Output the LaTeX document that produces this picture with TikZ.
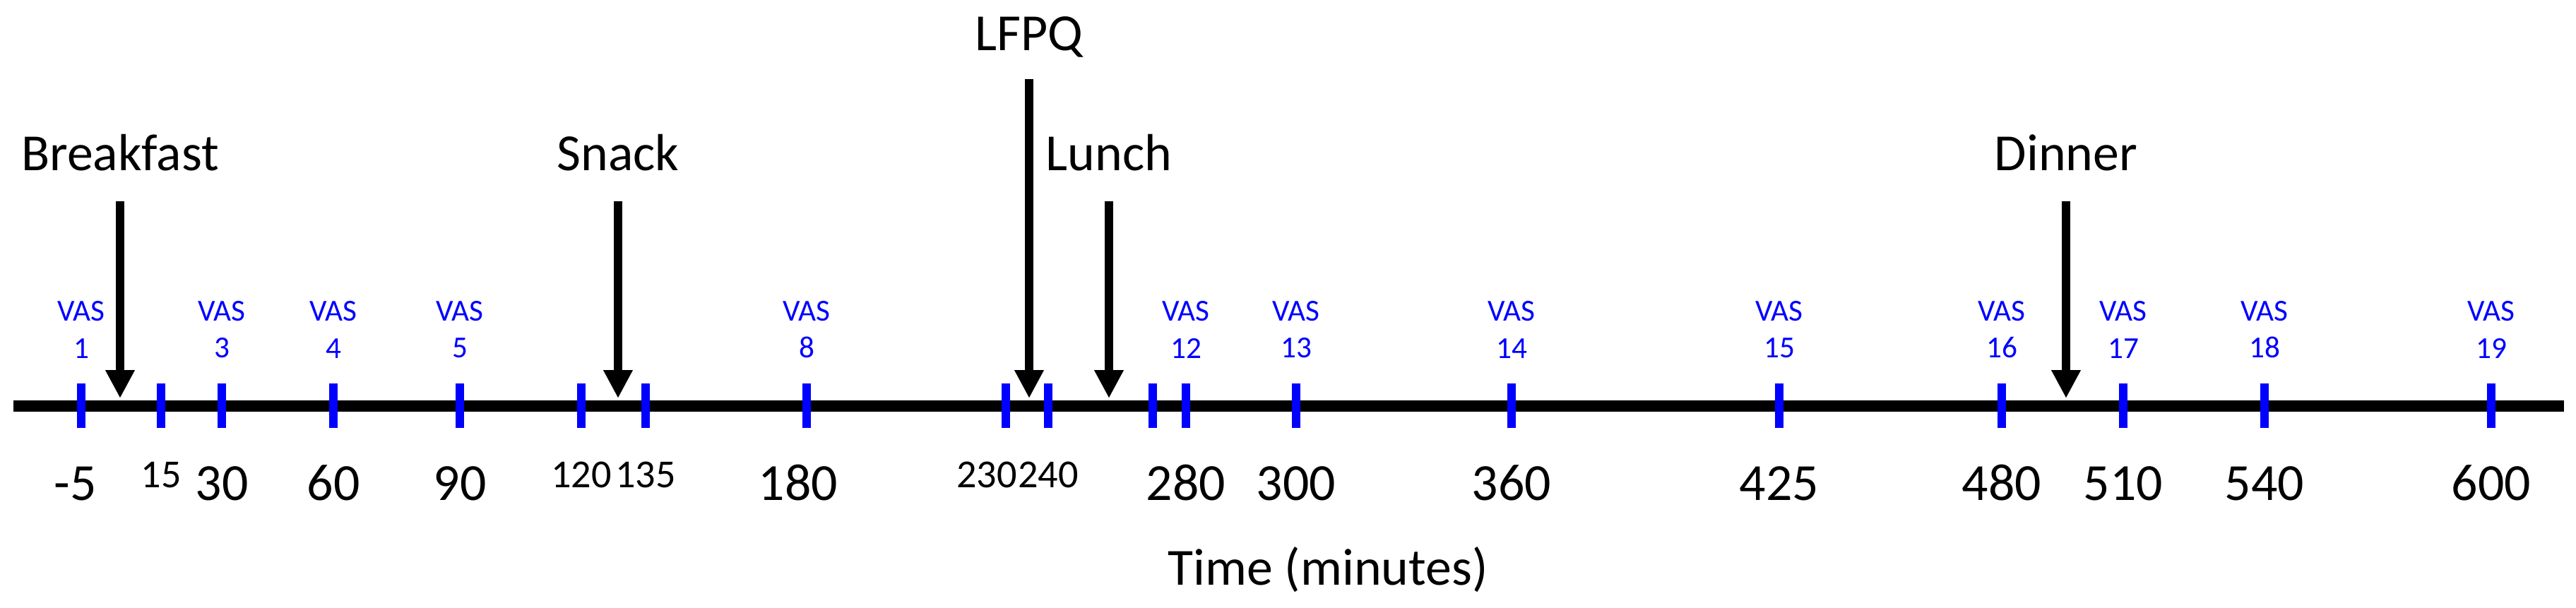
\documentclass[tikz,border=0pt]{standalone}
\usepackage{fontspec}
\setmainfont{Carlito}
\usetikzlibrary{arrows.meta}

\begin{document}
\begin{tikzpicture}[line cap=butt, x=1cm, y=1cm,
    vastick/.style={blue, line width=3.3pt},
    meal/.style={line width=3.6pt, -{Triangle[length=0.4cm, width=0.39cm]}},
    mealname/.style={anchor=base, inner sep=0pt, font=\fontsize{21}{25}\selectfont},
    vas/.style={text=blue, align=center, anchor=south, inner sep=0pt, yshift=0.30cm,
                font=\fontsize{12.3}{15}\selectfont},
    bignum/.style={text=black, anchor=base, inner sep=0pt, yshift=-1.02cm, font=\fontsize{21}{25}\selectfont},
    smallnum/.style={text=black, anchor=base, inner sep=0pt, yshift=-0.84cm, font=\fontsize{16}{19}\selectfont}]

                \useasboundingbox (0,0) rectangle (36.47,8.60);

                % time axis
                \coordinate (axl) at (0.19,2.85);
                \coordinate (axr) at (36.30,2.85);
                \draw[line width=4.5pt] (axl) -- (axr);

                % VAS time points
                \draw[vastick] (1.15,2.54) node[bignum, xshift=-0.08cm] (tm5) {-5} -- (1.15,3.17) node[vas] (v1) {VAS\\1};
                \draw[vastick] (2.28,2.54) node[smallnum] (t15) {15} -- (2.28,3.17);
                \draw[vastick] (3.14,2.54) node[bignum] (t30) {30} -- (3.14,3.17) node[vas] (v3) {VAS\\3};
                \draw[vastick] (4.72,2.54) node[bignum] (t60) {60} -- (4.72,3.17) node[vas] (v4) {VAS\\4};
                \draw[vastick] (6.51,2.54) node[bignum] (t90) {90} -- (6.51,3.17) node[vas] (v5) {VAS\\5};
                \draw[vastick] (8.23,2.54) node[smallnum] (t120) {120} -- (8.23,3.17);
                \draw[vastick] (9.14,2.54) node[smallnum] (t135) {135} -- (9.14,3.17);
                \draw[vastick] (11.42,2.54) node[bignum, xshift=-0.12cm] (t180) {180} -- (11.42,3.17) node[vas] (v8) {VAS\\8};
                \draw[vastick] (14.24,2.54) node[smallnum, xshift=-0.27cm] (t230) {230} -- (14.24,3.17);
                \draw[vastick] (14.84,2.54) node[smallnum] (t240) {240} -- (14.84,3.17);
                \draw[vastick] (16.32,2.54) -- (16.32,3.17);
                \draw[vastick] (16.79,2.54) node[bignum] (t280) {280} -- (16.79,3.17) node[vas] (v12) {VAS\\12};
                \draw[vastick] (18.35,2.54) node[bignum] (t300) {300} -- (18.35,3.17) node[vas] (v13) {VAS\\13};
                \draw[vastick] (21.40,2.54) node[bignum] (t360) {360} -- (21.40,3.17) node[vas] (v14) {VAS\\14};
                \draw[vastick] (25.19,2.54) node[bignum] (t425) {425} -- (25.19,3.17) node[vas] (v15) {VAS\\15};
                \draw[vastick] (28.34,2.54) node[bignum] (t480) {480} -- (28.34,3.17) node[vas] (v16) {VAS\\16};
                \draw[vastick] (30.06,2.54) node[bignum] (t510) {510} -- (30.06,3.17) node[vas] (v17) {VAS\\17};
                \draw[vastick] (32.06,2.54) node[bignum] (t540) {540} -- (32.06,3.17) node[vas] (v18) {VAS\\18};
                \draw[vastick] (35.27,2.54) node[bignum] (t600) {600} -- (35.27,3.17) node[vas] (v19) {VAS\\19};

                % meals and questionnaire
                \node[mealname] (breakfast) at (1.70,6.18) {Breakfast};
                \node[mealname] (snack) at (8.75,6.18) {Snack};
                \node[mealname] (lfpq) at (14.57,7.88) {LFPQ};
                \node[mealname] (lunch) at (15.70,6.18) {Lunch};
                \node[mealname] (dinner) at (29.25,6.18) {Dinner};

                \coordinate (bfs) at (1.70,5.75);   \coordinate (bfe) at (1.70,2.96);
                \coordinate (sns) at (8.75,5.75);   \coordinate (sne) at (8.75,2.96);
                \coordinate (lfs) at (14.57,7.48);  \coordinate (lfe) at (14.57,2.96);
                \coordinate (lus) at (15.70,5.75);  \coordinate (lue) at (15.70,2.96);
                \coordinate (dis) at (29.25,5.75);  \coordinate (die) at (29.25,2.96);

                \draw[meal] (bfs) -- (bfe);
                \draw[meal] (sns) -- (sne);
                \draw[meal] (lfs) -- (lfe);
                \draw[meal] (lus) -- (lue);
                \draw[meal] (dis) -- (die);

                \node[mealname] (time) at (18.80,0.32) {Time (minutes)};

            \end{tikzpicture}
\end{document}
